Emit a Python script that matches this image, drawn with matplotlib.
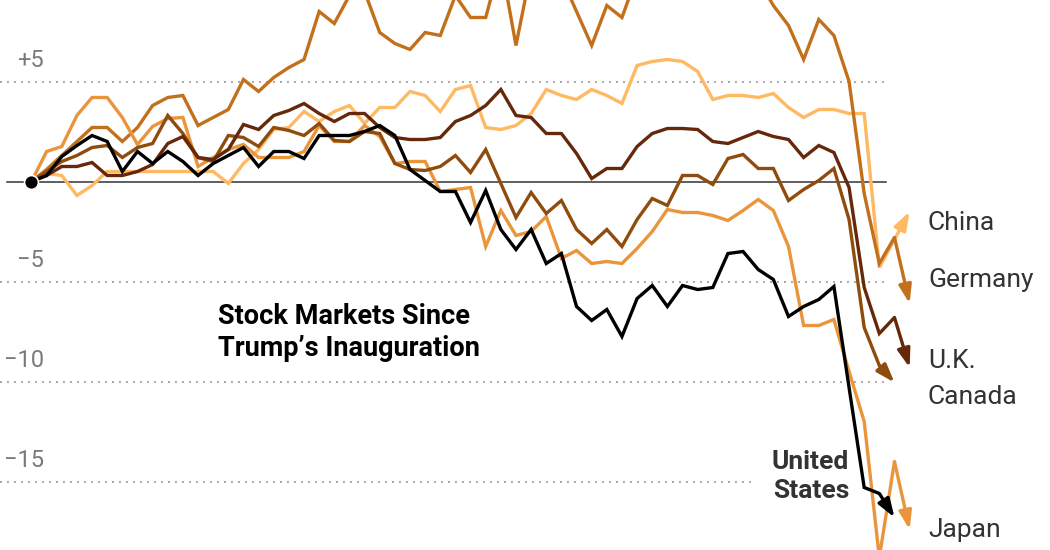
import numpy as np
import matplotlib
matplotlib.use('Agg')
import matplotlib.pyplot as plt

plt.rcParams['font.family'] = ['Roboto', 'DejaVu Sans']

# percent change since Jan. 20, one value per trading day
china = [0, 0.4, 0.3, -0.7, -0.2, 0.5, 0.5, 0.5, 0.5, 0.5,
         0.5, 0.5, 0.5, -0.1, 0.9, 1.6, 2.6, 2.7, 3.5, 3.0,
         3.5, 3.8, 2.9, 3.7, 3.7, 4.5, 4.3, 3.5, 4.6, 4.8,
         2.7, 2.6, 2.8, 3.4, 4.6, 4.3, 4.1, 4.6, 4.3, 3.9,
         5.8, 6.0, 6.1, 6.0, 5.5, 4.1, 4.3, 4.3, 4.2, 4.4,
         3.7, 3.2, 3.6, 3.6, 3.4, 3.4, -4.3, -2.9, -1.5]
germany = [0, 0.6, 1.3, 2.0, 2.7, 2.7, 2.0, 2.7, 3.8, 4.2,
           4.3, 2.8, 3.2, 3.6, 5.1, 4.5, 5.2, 5.7, 6.1, 8.5,
           7.9, 9.3, 9.5, 7.45, 6.9, 6.6, 7.45, 7.3, 9.3, 8.2,
           8.2, 11.0, 6.8, 10.6, 10.8, 10.2, 8.5, 6.8, 8.8, 8.2,
           10.3, 11.0, 11.5, 11.8, 11.6, 11.2, 10.8, 10.5, 10.1, 8.8,
           7.8, 6.1, 8.1, 7.3, 5.0, -0.6, -4.1, -2.8, -6.1]
japan = [0, 1.5, 1.75, 3.3, 4.2, 4.2, 3.2, 1.85, 2.75, 3.15,
         3.2, 0.75, 1.2, 1.6, 1.85, 1.2, 1.2, 1.2, 1.5, 2.8,
         2.0, 2.0, 2.8, 2.25, 0.9, 1.0, 1.0, -0.5, -0.4, -0.3,
         -3.25, -1.45, -2.7, -2.5, -1.75, -3.85, -3.45, -4.1, -4.0, -4.1,
         -3.35, -2.5, -1.4, -1.55, -1.55, -1.7, -1.95, -1.45, -0.9, -1.45,
         -3.25, -7.2, -7.2, -6.9, -9.5, -12.0, -18.8, -14.0, -17.4]
canada = [0, 0.5, 1.0, 1.3, 1.7, 1.8, 1.2, 1.7, 1.9, 3.3,
          2.4, 1.2, 1.0, 2.3, 2.2, 1.75, 2.7, 2.55, 2.3, 2.9,
          2.05, 2.0, 2.5, 2.4, 0.9, 0.6, 0.55, 0.75, 1.3, 0.45,
          1.6, -0.1, -1.8, -0.55, -1.6, -0.95, -2.4, -3.1, -2.4, -3.25,
          -1.9, -0.85, -1.2, 0.3, 0.3, -0.15, 1.15, 1.35, 0.65, 0.65,
          -0.95, -0.4, 0.05, 0.65, -1.9, -7.3, -9.2, -10.05, np.nan]
uk = [0, 0.3, 0.75, 0.75, 0.95, 0.3, 0.3, 0.5, 0.85, 1.9,
      2.25, 1.2, 1.1, 1.6, 2.85, 2.6, 3.3, 3.55, 3.9, 3.4,
      3.0, 3.4, 3.4, 2.7, 2.2, 2.1, 2.1, 2.2, 3.0, 3.3,
      3.8, 4.6, 3.3, 3.2, 2.4, 2.4, 1.4, 0.15, 0.65, 0.65,
      1.75, 2.4, 2.65, 2.65, 2.6, 2.0, 1.9, 2.2, 2.5, 2.25,
      2.1, 1.2, 1.8, 1.45, -0.3, -5.3, -7.6, -6.8, -9.3]
us = [0, 0.3, 1.25, 1.8, 2.3, 2.0, 0.5, 1.5, 0.9, 1.5,
      1.0, 0.3, 0.9, 1.3, 1.7, 0.75, 1.5, 1.5, 1.15, 2.3,
      2.3, 2.3, 2.5, 2.8, 2.3, 0.6, 0.05, -0.5, -0.5, -2.05,
      -0.45, -2.4, -3.4, -2.4, -4.1, -3.6, -6.25, -6.95, -6.4, -7.75,
      -5.85, -5.2, -6.25, -5.2, -5.4, -5.3, -3.6, -3.5, -4.4, -4.9,
      -6.75, -6.25, -5.9, -5.25, -10.3, -15.3, -15.6, -16.8, np.nan]

series = [
    ('China', china, '#ffb963'),
    ('Germany', germany, '#c2701c'),
    ('Japan', japan, '#ea953c'),
    ('Canada', canada, '#8f4c0c'),
    ('U.K.', uk, '#66280a'),
    ('United States', us, '#000000'),
]

grid_vals = [5, -5, -10, -15]
grid_labels = ['+5', '\u22125', '\u221210', '\u221215']

def px(x):
    # pixel column -> trading day index
    return (x - 31.5) / 15.14

fig = plt.figure(figsize=(10.5, 5.5), dpi=100)
ax = fig.add_axes([0, 0, 1, 1])
ax.set_xlim(px(0), px(1050))
ax.set_ylim((181.5 - 550) / 20, 181.5 / 20)
ax.axis('off')

for v, lab in zip(grid_vals, grid_labels):
    xend = px(753) if v == -15 else px(885)
    ax.plot([px(0), xend], [v, v], color='#a8a8a8', lw=1.4,
            linestyle=(0, (1, 2.6)), zorder=1)
    ax.text(px(44), v + 1.05, lab, ha='right', va='center',
            fontsize=17, color='#7a7a7a')

ax.plot([px(7), px(886)], [0, 0], color='#333333', lw=1.1, zorder=2)

for name, vals, col in series:
    y = np.array(vals, dtype=float)
    x = np.arange(len(y))
    n = np.where(~np.isnan(y))[0][-1]
    ax.plot(x[:n], y[:n], color=col, lw=2.4, zorder=3,
            solid_joinstyle='miter', solid_capstyle='butt')
    ax.annotate('', xy=(x[n], y[n]), xytext=(x[n - 1], y[n - 1]),
                arrowprops=dict(arrowstyle='-|>,head_length=0.55,head_width=0.19',
                                color=col, lw=2.4, shrinkA=0, shrinkB=0,
                                mutation_scale=20), zorder=3)

ax.plot([0], [0], 'o', color='black', ms=10, mec='white', mew=1.2, zorder=5)

lab_col = '#333333'
ax.text(px(928), -2.05, 'China', fontsize=19, color=lab_col, va='center')
ax.text(px(928), -4.95, 'Germany', fontsize=19, color=lab_col, va='center')
ax.text(px(928), -9.0, 'U.K.', fontsize=19, color=lab_col, va='center')
ax.text(px(928), -10.8, 'Canada', fontsize=19, color=lab_col, va='center')
ax.text(px(928), -17.45, 'Japan', fontsize=19, color=lab_col, va='center')
ax.text(px(849), -14.75, 'United\nStates', fontsize=19, color=lab_col,
        fontweight='bold', ha='right', va='center', linespacing=1.25)
ax.text(px(218), -7.55, 'Stock Markets Since\nTrump\u2019s Inauguration',
        fontsize=19.5, color='black', fontweight='bold', ha='left',
        va='center', linespacing=1.2)

fig.savefig('out.png', dpi=100)
